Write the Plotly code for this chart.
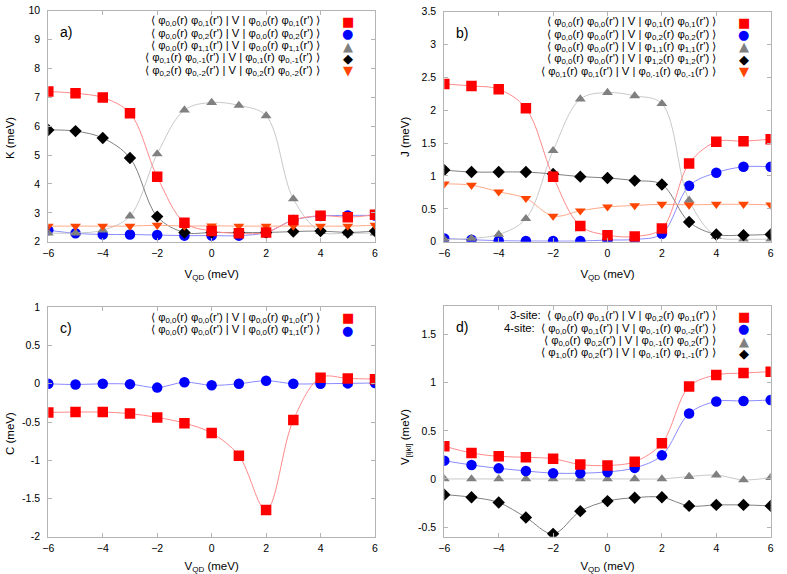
import plotly.graph_objects as go

W, H = 787, 574
vqd = [-6, -5, -4, -3, -2, -1, 0, 1, 2, 3, 4, 5, 6]

# Panel a) K
K_00_01 = [7.2, 7.14, 6.99, 6.45, 4.25, 2.66, 2.37, 2.29, 2.32, 2.75, 2.9, 2.85, 2.93]
K_00_02 = [2.4, 2.29, 2.25, 2.25, 2.23, 2.21, 2.21, 2.21, 2.32, 2.75, 2.89, 2.91, 2.91]
K_00_11 = [2.3, 2.3, 2.4, 2.89, 5.04, 6.56, 6.82, 6.72, 6.36, 3.48, 2.35, 2.3, 2.3]
K_01_0m1 = [5.87, 5.83, 5.59, 4.9, 2.87, 2.32, 2.32, 2.32, 2.32, 2.35, 2.37, 2.32, 2.37]
K_02_0m2 = [2.54, 2.54, 2.54, 2.54, 2.57, 2.54, 2.55, 2.54, 2.54, 2.54, 2.54, 2.54, 2.57]

# Panel b) J
J_00_01 = [2.40, 2.37, 2.32, 2.03, 0.99, 0.24, 0.10, 0.08, 0.20, 1.19, 1.52, 1.53, 1.56]
J_00_02 = [0.05, 0.03, 0.015, 0.01, 0.01, 0.01, 0.025, 0.035, 0.12, 0.85, 1.05, 1.14, 1.14]
J_00_11 = [0.035, 0.05, 0.11, 0.35, 1.385, 2.17, 2.27, 2.22, 2.10, 0.63, 0.08, 0.04, 0.04]
J_00_12 = [1.09, 1.06, 1.06, 1.06, 1.03, 0.99, 0.97, 0.93, 0.87, 0.30, 0.11, 0.10, 0.11]
J_01_0m1 = [0.88, 0.86, 0.76, 0.66, 0.39, 0.47, 0.53, 0.55, 0.57, 0.56, 0.57, 0.57, 0.56]

# Panel c) C
C_10 = [-0.375, -0.37, -0.37, -0.39, -0.44, -0.515, -0.645, -0.94, -1.65, -0.475, 0.08, 0.07, 0.06]
C_11 = [0.0, -0.01, 0.0, -0.005, -0.05, 0.02, -0.02, 0.0, 0.04, 0.0, 0.0, 0.005, 0.01]

# Panel d) V_ijkl
V_3site = [0.34, 0.27, 0.235, 0.225, 0.21, 0.15, 0.14, 0.18, 0.37, 0.96, 1.08, 1.10, 1.115]
V_4site = [0.19, 0.145, 0.11, 0.083, 0.06, 0.06, 0.073, 0.115, 0.245, 0.68, 0.805, 0.81, 0.82]
V_gray = [0.0, 0.0, 0.0, 0.0, 0.0, 0.0, 0.0, 0.0, 0.0, 0.025, 0.04, -0.01, 0.015]
V_black = [-0.163, -0.19, -0.245, -0.40, -0.57, -0.335, -0.23, -0.195, -0.19, -0.28, -0.27, -0.27, -0.28]

RED, BLUE, GRAY, BLACK, ORANGE = "#ff0000", "#0000ff", "#808080", "#000000", "#ff4500"
LRED, LBLUE, LGRAY, LBLACK, LORANGE = "#ff8a8a", "#8a8aff", "#c8c8c8", "#808080", "#ffa888"
STY = {
    "sq": ("square", RED, LRED, 10.5),
    "ci": ("circle", BLUE, LBLUE, 10.5),
    "tu": ("triangle-up", GRAY, LGRAY, 9.5),
    "di": ("diamond", BLACK, LBLACK, 9.5),
    "td": ("triangle-down", ORANGE, LORANGE, 9.5),
}
SYM_CHAR = {"sq": "■", "ci": "●", "tu": "▲", "di": "◆", "td": "▼"}

FONT = "Liberation Sans, Arial, sans-serif"

fig = go.Figure()

def px2x(p):
    return p / W

def px2y(p):
    return 1 - p / H

panels = [
    # axis suffix, x domain px, y domain px (top,bottom), yrange, ytick step, ylabel, tag, ylabel pos px
    ("", (48.3, 375.0), (10.7, 241.7), (2, 10), 1, "K (meV)", "a)", (10, 138)),
    ("2", (444.3, 770.7), (11.7, 241.7), (0, 3.5), 0.5, "J (meV)", "b)", (405, 137)),
    ("3", (48.3, 375.0), (307.3, 536.7), (-2, 1), 0.5, "C (meV)", "c)", (10, 434)),
    ("4", (444.3, 770.7), (305.7, 536.7), (-0.6, 1.8), 0.5, "V<sub>[ijkl]</sub> (meV)", "d)", (406, 437)),
]

series = {
    "": [(K_00_02, "ci"), (K_00_11, "tu"), (K_01_0m1, "di"), (K_02_0m2, "td"), (K_00_01, "sq")],
    "2": [(J_00_02, "ci"), (J_00_11, "tu"), (J_00_12, "di"), (J_01_0m1, "td"), (J_00_01, "sq")],
    "3": [(C_11, "ci"), (C_10, "sq")],
    "4": [(V_gray, "tu"), (V_black, "di"), (V_4site, "ci"), (V_3site, "sq")],
}

def s(a, b):
    return f"φ<sub>{a}</sub>(r) φ<sub>{b}</sub>(r')"

legends = {
    "": [
        (f"⟨ {s('0,0','0,1')} | V | {s('0,0','0,1')} ⟩", "sq"),
        (f"⟨ {s('0,0','0,2')} | V | {s('0,0','0,2')} ⟩", "ci"),
        (f"⟨ {s('0,0','1,1')} | V | {s('0,0','1,1')} ⟩", "tu"),
        (f"⟨ {s('0,1','0,-1')} | V | {s('0,1','0,-1')} ⟩", "di"),
        (f"⟨ {s('0,2','0,-2')} | V | {s('0,2','0,-2')} ⟩", "td"),
    ],
    "2": [
        (f"⟨ {s('0,0','0,0')} | V | {s('0,1','0,1')} ⟩", "sq"),
        (f"⟨ {s('0,0','0,0')} | V | {s('0,2','0,2')} ⟩", "ci"),
        (f"⟨ {s('0,0','0,0')} | V | {s('1,1','1,1')} ⟩", "tu"),
        (f"⟨ {s('0,0','0,0')} | V | {s('1,2','1,2')} ⟩", "di"),
        (f"⟨ {s('0,1','0,1')} | V | {s('0,-1','0,-1')} ⟩", "td"),
    ],
    "3": [
        (f"⟨ {s('0,0','0,0')} | V | {s('0,0','1,0')} ⟩", "sq"),
        (f"⟨ {s('0,0','0,0')} | V | {s('0,0','1,1')} ⟩", "ci"),
    ],
    "4": [
        (f"3-site:  ⟨ {s('0,0','0,1')} | V | {s('0,2','0,1')} ⟩", "sq"),
        (f"4-site:  ⟨ {s('0,0','0,1')} | V | {s('0,-1','0,-2')} ⟩", "ci"),
        (f"⟨ {s('0,0','0,2')} | V | {s('0,-1','0,2')} ⟩", "tu"),
        (f"⟨ {s('1,0','0,2')} | V | {s('0,-1','1,-1')} ⟩", "di"),
    ],
}

annotations = []
layout_axes = {}
for suf, xd, yd, yr, ystep, ylab, tag, ylpos in panels:
    xa = "x" + suf
    ya = "y" + suf
    for ys, key in series[suf]:
        sym, mc, lc, ms = STY[key]
        fig.add_trace(go.Scatter(
            x=vqd, y=ys, xaxis=xa, yaxis=ya, mode="lines+markers",
            line=dict(color=lc, width=1, shape="spline", smoothing=1.0),
            marker=dict(symbol=sym, color=mc, size=ms, line=dict(width=0)),
            showlegend=False, hoverinfo="skip",
        ))
    common = dict(
        showline=True, linecolor="#b4b4b4", linewidth=1, mirror="ticks",
        ticks="inside", ticklen=4, tickcolor="#b4b4b4", showgrid=False,
        zeroline=False, tickfont=dict(family=FONT, size=10.5, color="#000"),
        automargin=False,
    )
    xname = "xaxis" + suf
    yname = "yaxis" + suf
    layout_axes[xname] = dict(
        common, domain=[px2x(xd[0]), px2x(xd[1])], range=[-6, 6],
        tickmode="array", tickvals=[-6, -4, -2, 0, 2, 4, 6],
        anchor=ya, ticklabelstandoff=2,
        title=dict(text="V<sub>QD</sub> (meV)", font=dict(family=FONT, size=11.5, color="#000"), standoff=11),
    )
    ytv = []
    v = yr[0] if yr[0] % ystep == 0 else -0.5
    while v <= yr[1] + 1e-9:
        ytv.append(round(v, 3))
        v += ystep
    layout_axes[yname] = dict(
        common, domain=[px2y(yd[1]), px2y(yd[0])], range=list(yr),
        tickmode="array", tickvals=ytv, ticktext=[f"{t:g}" for t in ytv],
        anchor=xa, ticklabelstandoff=5,
    )
    # y axis title
    annotations.append(dict(
        text=ylab, xref="paper", yref="paper", x=px2x(ylpos[0]), y=px2y(ylpos[1]),
        xanchor="center", yanchor="middle", textangle=-90, showarrow=False,
        font=dict(family=FONT, size=11.5, color="#000"),
    ))
    # panel tag
    top = yd[0]
    annotations.append(dict(
        text=tag, xref="paper", yref="paper", x=px2x(xd[0] + 10), y=px2y(top + 21),
        xanchor="left", yanchor="middle", showarrow=False,
        font=dict(family=FONT, size=14, color="#000"),
    ))
    # legend
    row0 = top + 10.5
    for i, (label, key) in enumerate(legends[suf]):
        yy = row0 + 12.4 * i
        annotations.append(dict(
            text=label, xref="paper", yref="paper", x=px2x(xd[0] + 274), y=px2y(yy),
            xanchor="right", yanchor="middle", showarrow=False,
            font=dict(family=FONT, size=11.3, color="#000"),
        ))
        annotations.append(dict(
            text=SYM_CHAR[key], xref="paper", yref="paper", x=px2x(xd[0] + 299.5), y=px2y(yy),
            xanchor="center", yanchor="middle", showarrow=False,
            font=dict(family="DejaVu Sans", size=13, color=STY[key][1]),
        ))

fig.update_layout(
    width=W, height=H, margin=dict(l=0, r=0, t=0, b=0),
    paper_bgcolor="white", plot_bgcolor="white",
    annotations=annotations, **layout_axes,
)

fig.write_html(
    "out.html",
    config={"displayModeBar": False},
    post_script="document.body.style.margin='0';document.body.style.padding='0';",
)
